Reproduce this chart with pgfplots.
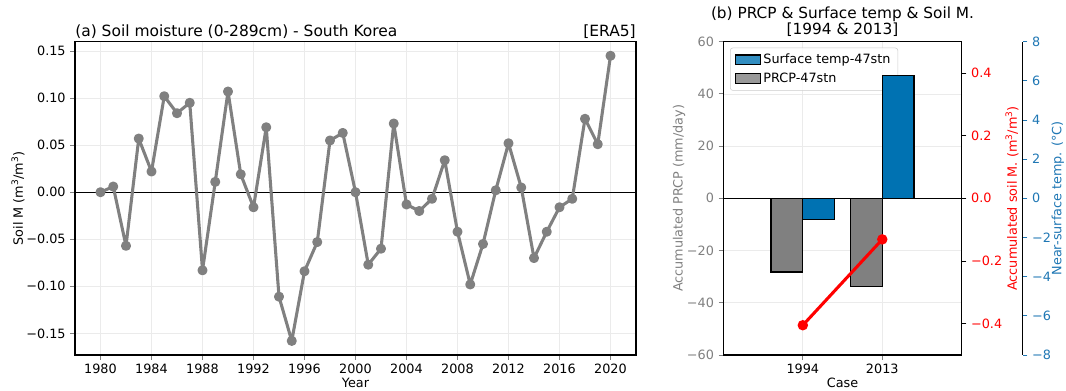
\documentclass[border=0pt]{standalone}
\usepackage{fontspec}
\setmainfont{DejaVu Sans}
\usepackage{pgfplots}
\pgfplotsset{compat=1.18}
\definecolor{barblue}{HTML}{0072B2}
\definecolor{tickblue}{HTML}{1F77B4}
\definecolor{gridc}{HTML}{EBEBEB}
\definecolor{lgray}{HTML}{808080}
\pgfplotsset{
  every axis/.append style={
    scale only axis,
    tick align=outside,
    major tick length=3.5pt,
    every tick/.append style={line width=0.6pt},
    axis line style={line width=0.8pt},
    /pgf/number format/assume math mode=true,
  },
}
\begin{document}
\begin{tikzpicture}[font=\fontsize{9.6}{11.5}\selectfont]
\useasboundingbox (0,0) rectangle (799.5pt,293.25pt);

% ---------------- (a) ----------------
\begin{axis}[
  at={(56.25pt,27pt)}, anchor=south west,
  width=420.75pt, height=235pt,
  xmin=1978, xmax=2022, ymin=-0.173, ymax=0.160,
  tick pos=left,
  xtick={1980,1984,1988,1992,1996,2000,2004,2008,2012,2016,2020},
  /pgf/number format/1000 sep={},
  ytick={-0.15,-0.10,-0.05,0,0.05,0.10,0.15},
  yticklabels={−0.15,−0.10,−0.05,0.00,0.05,0.10,0.15},
  grid=major, major grid style={gridc, line width=0.5pt},
  xlabel={Year},
  xlabel style={at={(axis description cs:0.5,-0.089)}, anchor=center},
  ylabel={Soil M (m\textsuperscript{3}/m\textsuperscript{3})},
  ylabel style={at={(axis description cs:-0.1016,0.5)}, anchor=center},
  clip=false,
]
\addplot[black, line width=0.8pt] coordinates {(1978,0) (2022,0)};
\addplot[lgray, line width=2.3pt, line join=round, line cap=round, mark=*, mark size=2.6pt] coordinates {
(1980,0.000) (1981,0.006) (1982,-0.057) (1983,0.057) (1984,0.022)
(1985,0.102) (1986,0.084) (1987,0.095) (1988,-0.083) (1989,0.011)
(1990,0.107) (1991,0.019) (1992,-0.016) (1993,0.069) (1994,-0.111)
(1995,-0.158) (1996,-0.084) (1997,-0.053) (1998,0.055) (1999,0.063)
(2000,0.000) (2001,-0.077) (2002,-0.060) (2003,0.073) (2004,-0.013)
(2005,-0.020) (2006,-0.007) (2007,0.034) (2008,-0.042) (2009,-0.098)
(2010,-0.055) (2011,0.002) (2012,0.052) (2013,0.005) (2014,-0.070)
(2015,-0.042) (2016,-0.016) (2017,-0.007) (2018,0.078) (2019,0.051)
(2020,0.145)};
\node[anchor=base west, inner sep=0pt, yshift=3.75pt, font=\fontsize{11.6}{13.9}\selectfont] at (rel axis cs:0,1) {(a) Soil moisture (0-289cm) - South Korea};
\node[anchor=base east, inner sep=0pt, yshift=3.75pt, font=\fontsize{11.6}{13.9}\selectfont] at (rel axis cs:1,1) {[ERA5]};
\end{axis}

% ---------------- (b) main: PRCP ----------------
\begin{axis}[
  at={(542.5pt,27pt)}, anchor=south west,
  width=178.8pt, height=235pt,
  xmin=-1, xmax=2, ymin=-60, ymax=60,
  tick pos=left,
  xtick={0,1}, xticklabels={1994,2013},
  ytick={-60,-40,-20,0,20,40,60},
  yticklabels={−60,−40,−20,0,20,40,60},
  yticklabel style={lgray}, ytick style={lgray},
  grid=major, major grid style={gridc, line width=0.5pt},
  xlabel={Case},
  xlabel style={at={(axis description cs:0.5,-0.089)}, anchor=center},
  ylabel={Accumulated PRCP (mm/day)},
  ylabel style={lgray, at={(axis description cs:-0.186,0.5)}, anchor=center},
  clip=false,
  legend cell align=left,
  legend image code/.code={\draw[sharp corners, #1] (0pt,-3.6pt) rectangle (18.5pt,3.6pt);},
  legend style={at={(0.028,0.981)}, anchor=north west, draw=black!20,
    rounded corners=2pt, fill=white, fill opacity=0.8, text opacity=1,
    inner xsep=3.5pt, inner ysep=2.5pt, row sep=1.5pt},
]
\addlegendimage{fill=barblue, draw=black, line width=0.9pt}
\addlegendentry{Surface temp-47stn}
\addplot[ybar, bar width=0.4, bar shift=-0.2, fill=lgray, draw=black, line width=0.9pt] coordinates {(0,-28.2) (1,-33.7)};
\addlegendentry{PRCP-47stn}
\addplot[black, line width=0.8pt, forget plot] coordinates {(-1,0) (2,0)};
\node[anchor=base, inner sep=0pt, yshift=5pt, font=\fontsize{11.5}{13.8}\selectfont] at (rel axis cs:0.5,1) {[1994 \& 2013]};
\node[anchor=base, inner sep=0pt, yshift=17.5pt, font=\fontsize{11.5}{13.8}\selectfont] at (rel axis cs:0.5,1) {(b) PRCP \& Surface temp \& Soil M.};
\end{axis}

% ---------------- (b) temperature bars ----------------
\begin{axis}[
  at={(542.5pt,27pt)}, anchor=south west,
  width=178.8pt, height=235pt,
  xmin=-1, xmax=2, ymin=-8, ymax=8,
  hide axis,
]
\addplot[ybar, bar width=0.4, bar shift=0.2, fill=barblue, draw=black, line width=0.9pt] coordinates {(0,-1.07) (1,6.27)};
\end{axis}

% ---------------- (b) soil moisture (red axis) ----------------
\begin{axis}[
  at={(542.5pt,27pt)}, anchor=south west,
  width=178.8pt, height=235pt,
  xmin=-1, xmax=2, ymin=-0.5, ymax=0.5,
  axis y line*=right, axis x line=none,
  ytick={-0.4,-0.2,0,0.2,0.4},
  yticklabels={−0.4,−0.2,0.0,0.2,0.4},
  yticklabel style={red}, ytick style={black},
  ylabel={Accumulated soil M. (m\textsuperscript{3}/m\textsuperscript{3})},
  ylabel style={red, at={(axis description cs:1.211,0.5)}, anchor=center},
]
\addplot[red, line width=2.3pt, line cap=round, mark=*, mark size=2.7pt] coordinates {(0,-0.405) (1,-0.131)};
\end{axis}

% ---------------- (b) temperature spine ----------------
\begin{axis}[
  at={(588.2pt,27pt)}, anchor=south west,
  width=178.8pt, height=235pt,
  xmin=0, xmax=1, ymin=-8, ymax=8,
  axis y line*=right, axis x line=none,
  ytick={-8,-6,-4,-2,0,2,4,6,8},
  yticklabels={−8,−6,−4,−2,0,2,4,6,8},
  yticklabel style={tickblue}, ytick style={tickblue},
  ylabel={Near-surface temp. (°C)},
  ylabel style={tickblue, at={(axis description cs:1.148,0.5)}, anchor=center},
]
\addplot[draw=none] coordinates {(0.5,0)};
\end{axis}
\end{tikzpicture}
\end{document}
